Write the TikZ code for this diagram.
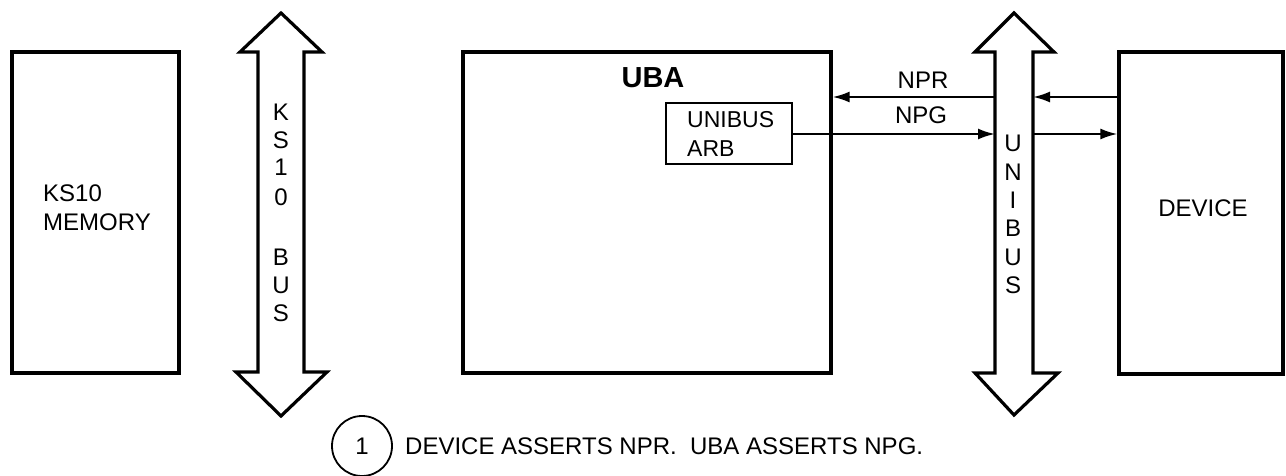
\documentclass[tikz,border=0pt]{standalone}
\usepackage{fontspec}
\setmainfont{Liberation Sans}
\usetikzlibrary{arrows.meta}
\begin{document}
\begin{tikzpicture}[x=1pt,y=-1pt,
  box/.style={draw,line width=3.2pt,inner sep=0pt},
  smallbox/.style={draw,line width=2.2pt,inner sep=0pt},
  sig/.style={line width=2.2pt,-{Latex[length=17pt,width=11pt]}},
  bus/.style={draw,line width=3.2pt,line join=miter},
  txt/.style={font=\fontsize{24}{29}\selectfont,inner sep=0pt},
  bustxt/.style={font=\fontsize{24}{29}\selectfont,inner sep=0pt}
]
\useasboundingbox (0,0) rectangle (1286,476);

% boxes
\node[box,minimum width=167pt,minimum height=321pt] (mem) at (95.5,212.5) {};
\node[box,minimum width=368pt,minimum height=321pt] (uba) at (647,212.5) {};
\node[smallbox,minimum width=126pt,minimum height=61pt] (arb) at (729,133.5) {};
\node[box,minimum width=164pt,minimum height=322pt] (dev) at (1201,213) {};

% box texts
\node[txt,anchor=west,align=left] (memtxt) at (43,207.5) {KS10\\MEMORY};
\node[inner sep=0pt,font=\fontsize{29}{34}\selectfont\bfseries] (ubatxt) at (653,78) {UBA};
\node[txt,anchor=west,align=left,font=\fontsize{23}{29}\selectfont] (arbtxt) at (687,133.5) {UNIBUS\\ARB};
\node[txt] (devtxt) at (1203,208) {DEVICE};

% KS10 bus
\draw[bus] (281,13) -- (322,52) -- (304,52) -- (304,372) -- (327,372) -- (281,416)
  -- (236,372) -- (258,372) -- (258,52) -- (240,52) -- cycle;
\foreach \c/\y [count=\i] in {K/112,S/140,1/167,0/197,B/257,U/285,S/313}
  \node[bustxt] (ks\i) at (281,\y) {\c};

% UNIBUS
\draw[bus] (1014,13) -- (1054,52) -- (1033,52) -- (1033,373) -- (1058,373) -- (1014,415)
  -- (975,373) -- (995,373) -- (995,52) -- (975,52) -- cycle;
\foreach \c/\y [count=\i] in {U/143,N/172,I/200,B/228,U/257,S/285}
  \node[bustxt] (ub\i) at (1013,\y) {\c};

\coordinate (ubL1) at (995,97);
\coordinate (ubR1) at (1033,97);
\coordinate (ubL2) at (995,134);
\coordinate (ubR2) at (1033,134);

% signals
\draw[sig] (ubL1) -- (ubL1 -| uba.east);
\draw[sig] (arb.east |- ubL2) -- (ubL2);
\draw[sig] (ubR1 -| dev.west) -- (ubR1);
\draw[sig] (ubR2) -- (ubR2 -| dev.west);
\node[txt] (npr) at (923,80) {NPR};
\node[txt] (npg) at (921,115) {NPG};

% footnote
\node[draw,circle,line width=1.8pt,minimum size=60pt,inner sep=0pt,
  font=\fontsize{24}{29}\selectfont] (one) at (362,446) {1};
\node[txt,anchor=west] (note) at (405,446) {DEVICE ASSERTS NPR.\ \ UBA ASSERTS NPG.};
\end{tikzpicture}
\end{document}
